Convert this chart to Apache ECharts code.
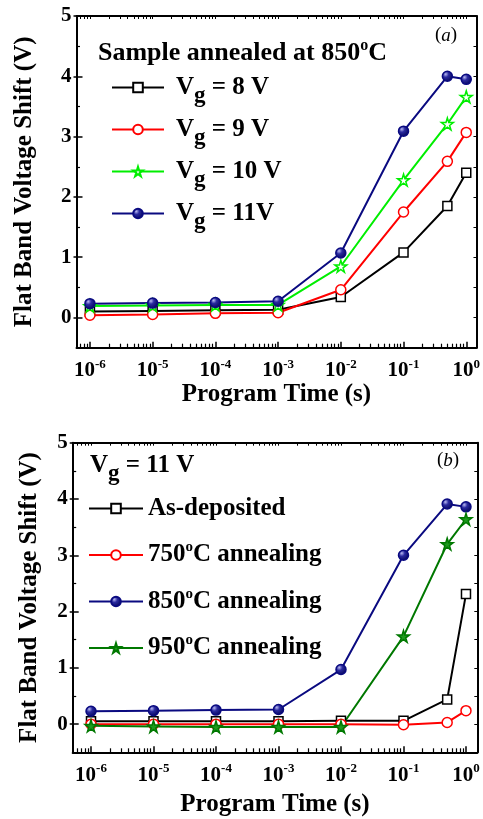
<!DOCTYPE html>
<html>
<head>
<meta charset="utf-8">
<script src="https://cdn.jsdelivr.net/npm/echarts@6/dist/echarts.min.js"></script>
<style>
html,body{margin:0;padding:0;background:#fff}
#main{width:483px;height:819px}
</style>
</head>
<body>
<div id="main"></div>
<script>
// program times (s)
var times = [1e-6, 1e-5, 1e-4, 1e-3, 1e-2, 1e-1, 0.5, 1];
var decades = [-6, -5, -4, -3, -2, -1, 0];
var yTicks = [0, 1, 2, 3, 4, 5];
var yHalf = [0.5, 1.5, 2.5, 3.5, 4.5];

// panel (a): sample annealed at 850 C
var vg8 = [0.10, 0.11, 0.12, 0.13, 0.34, 1.08, 1.85, 2.40];
var vg9 = [0.04, 0.05, 0.07, 0.08, 0.46, 1.75, 2.59, 3.07];
var vg10 = [0.19, 0.20, 0.21, 0.21, 0.85, 2.28, 3.21, 3.66];
var vg11 = [0.23, 0.24, 0.25, 0.27, 1.07, 3.09, 4.00, 3.95];

// panel (b): Vg = 11 V
var asDep = [0.05, 0.05, 0.05, 0.05, 0.06, 0.06, 0.44, 2.31];
var ann750 = [0.00, 0.00, 0.00, 0.00, 0.00, -0.01, 0.03, 0.24];
var ann850 = [0.23, 0.24, 0.25, 0.26, 0.97, 3.00, 3.91, 3.86];
var ann950 = [-0.03, -0.04, -0.05, -0.05, -0.05, 1.56, 3.20, 3.64];

var FONT = 'Liberation Serif';
var STAR = 'path://M50,0 L61,35 L98,35 L68,57 L79,91 L50,70 L21,91 L32,57 L2,35 L39,35 Z';

function pts(vals) {
  return vals.map(function (v, i) { return [Math.log10(times[i]), v]; });
}

function minorTicks(lo, hi) {
  var out = [];
  for (var d = -7; d <= 0; d++) {
    for (var k = 2; k <= 9; k++) {
      var v = d + Math.log10(k);
      if (v > lo && v < hi) out.push(v);
    }
  }
  return out;
}

var sphere = {
  type: 'radial', x: 0.35, y: 0.32, r: 0.75,
  colorStops: [
    {offset: 0, color: '#b8b8f0'},
    {offset: 0.35, color: '#2a2aa0'},
    {offset: 1, color: '#000050'}
  ]
};

var axLine = {onZero: false, lineStyle: {color: '#000', width: 2}};

function xAxes(gi, lo, hi, gap) {
  return [
    {
      gridIndex: gi, type: 'value', position: 'bottom', min: lo, max: hi,
      name: 'Program Time (s)', nameLocation: 'middle', nameGap: gap,
      nameTextStyle: {fontFamily: FONT, fontWeight: 'bold', fontSize: 25, color: '#000'},
      axisLine: axLine,
      axisTick: {inside: true, length: 6, customValues: decades, lineStyle: {color: '#000', width: 1.5}},
      axisLabel: {
        customValues: decades, margin: 10, color: '#000',
        formatter: function (v) { return '{b|10}{s|' + Math.round(v) + '}'; },
        rich: {
          b: {fontFamily: FONT, fontWeight: 'bold', fontSize: 21, color: '#000'},
          s: {fontFamily: FONT, fontWeight: 'bold', fontSize: 13, color: '#000', padding: [0, 0, 13, 0]}
        }
      },
      splitLine: {show: false}
    },
    {
      gridIndex: gi, type: 'value', position: 'bottom', min: lo, max: hi,
      axisLine: {show: false, onZero: false},
      axisTick: {inside: true, length: 4, customValues: minorTicks(lo, hi), lineStyle: {color: '#000', width: 1.2}},
      axisLabel: {show: false}, splitLine: {show: false}
    },
    {
      gridIndex: gi, type: 'value', position: 'top', min: lo, max: hi,
      axisLine: axLine,
      axisTick: {inside: true, length: 3, customValues: decades.concat(minorTicks(lo, hi)), lineStyle: {color: '#000', width: 1}},
      axisLabel: {show: false}, splitLine: {show: false}
    }
  ];
}

function yAxes(gi, gap) {
  return [
    {
      gridIndex: gi, type: 'value', position: 'left', min: -0.5, max: 5,
      name: 'Flat Band Voltage Shift (V)', nameLocation: 'middle', nameGap: gap,
      nameTextStyle: {fontFamily: FONT, fontWeight: 'bold', fontSize: 25, color: '#000'},
      axisLine: axLine,
      axisTick: {inside: true, length: 6, customValues: yTicks, lineStyle: {color: '#000', width: 1.5}},
      axisLabel: {customValues: yTicks, margin: 5, fontFamily: FONT, fontWeight: 'bold', fontSize: 21, color: '#000'},
      splitLine: {show: false}
    },
    {
      gridIndex: gi, type: 'value', position: 'left', min: -0.5, max: 5,
      axisLine: {show: false, onZero: false},
      axisTick: {inside: false, length: 3, customValues: yTicks, lineStyle: {color: '#000', width: 1.5}},
      axisLabel: {show: false}, splitLine: {show: false}
    },
    {
      gridIndex: gi, type: 'value', position: 'left', min: -0.5, max: 5,
      axisLine: {show: false, onZero: false},
      axisTick: {inside: true, length: 3.5, customValues: yHalf, lineStyle: {color: '#000', width: 1.2}},
      axisLabel: {show: false}, splitLine: {show: false}
    },
    {
      gridIndex: gi, type: 'value', position: 'right', min: -0.5, max: 5,
      axisLine: axLine,
      axisTick: {inside: true, length: 3, customValues: yTicks.concat(yHalf), lineStyle: {color: '#000', width: 1}},
      axisLabel: {show: false}, splitLine: {show: false}
    }
  ];
}

function line(name, vals, xi, yi, col, sym, size, fill) {
  return {
    name: name, type: 'line', xAxisIndex: xi, yAxisIndex: yi,
    data: pts(vals), color: col,
    symbol: sym, symbolSize: size, showSymbol: true,
    lineStyle: {color: col, width: 2},
    itemStyle: {color: fill, borderColor: col, borderWidth: 1.5},
    emphasis: {disabled: true}, animation: false
  };
}

var legRich = {
  sp: {fontSize: 8, width: 7},
  n: {fontFamily: FONT, fontWeight: 'bold', fontSize: 25, color: '#000'},
  g: {fontFamily: FONT, fontWeight: 'bold', fontSize: 23, color: '#000', padding: [18, 0, 0, 0]},
  o: {fontFamily: FONT, fontWeight: 'bold', fontSize: 15, color: '#000', padding: [0, 0, 15, 0]}
};

var legNames = {
  'Vg = 8 V': '{sp| }{n|V}{g|g}{n| = 8 V}',
  'Vg = 9 V': '{sp| }{n|V}{g|g}{n| = 9 V}',
  'Vg = 10 V': '{sp| }{n|V}{g|g}{n| = 10 V}',
  'Vg = 11V': '{sp| }{n|V}{g|g}{n| = 11V}',
  'As-deposited': '{n|As-deposited}',
  '750°C annealing': '{n|750}{o|o}{n|C annealing}',
  '850°C annealing': '{n|850}{o|o}{n|C annealing}',
  '950°C annealing': '{n|950}{o|o}{n|C annealing}'
};

var xa = xAxes(0, -6.214, 0.163, 34).concat(xAxes(1, -6.293, 0.181, 40));
var ya = yAxes(0, 39).concat(yAxes(1, 31));

var chart = echarts.init(document.getElementById('main'), null, {renderer: 'canvas'});
chart.setOption({
  backgroundColor: '#fff',
  animation: false,
  grid: [
    {left: 76.5, top: 16, width: 402.8, height: 331.7},
    {left: 72.7, top: 442.7, width: 404.6, height: 309.6}
  ],
  xAxis: xa,
  yAxis: ya,
  legend: [
    {
      data: ['Vg = 8 V', 'Vg = 9 V', 'Vg = 10 V', 'Vg = 11V'],
      orient: 'vertical', left: 106, top: 70, itemWidth: 52, itemHeight: 12, itemGap: 9,
      selectedMode: false, formatter: function (n) { return legNames[n]; },
      textStyle: {fontFamily: FONT, fontWeight: 'bold', fontSize: 25, color: '#000', rich: legRich}
    },
    {
      data: ['As-deposited', '750°C annealing', '850°C annealing', '950°C annealing'],
      orient: 'vertical', left: 83, top: 491, itemWidth: 54, itemHeight: 12, itemGap: 19,
      selectedMode: false, formatter: function (n) { return legNames[n]; },
      textStyle: {fontFamily: FONT, fontWeight: 'bold', fontSize: 25, color: '#000', rich: legRich}
    }
  ],
  graphic: [
    {
      type: 'text', left: 98, top: 38,
      style: {
        text: '{n|Sample annealed at 850}{o|o}{n|C}',
        rich: {
          n: {fontFamily: FONT, fontWeight: 'bold', fontSize: 26, fill: '#000'},
          o: {fontFamily: FONT, fontWeight: 'bold', fontSize: 16, fill: '#000', padding: [0, 0, 14, 0]}
        }
      }
    },
    {
      type: 'text', left: 435, top: 26,
      style: {
        text: '{p|(}{i|a}{p|)}',
        rich: {
          p: {fontFamily: FONT, fontSize: 19, fill: '#000'},
          i: {fontFamily: FONT, fontStyle: 'italic', fontSize: 19, fill: '#000'}
        }
      }
    },
    {
      type: 'text', left: 90, top: 453,
      style: {
        text: '{n|V}{g|g}{n| = 11 V}',
        rich: {
          n: {fontFamily: FONT, fontWeight: 'bold', fontSize: 25, fill: '#000'},
          g: {fontFamily: FONT, fontWeight: 'bold', fontSize: 23, fill: '#000', padding: [18, 0, 0, 0]}
        }
      }
    },
    {
      type: 'text', left: 437, top: 451,
      style: {
        text: '{p|(}{i|b}{p|)}',
        rich: {
          p: {fontFamily: FONT, fontSize: 19, fill: '#000'},
          i: {fontFamily: FONT, fontStyle: 'italic', fontSize: 19, fill: '#000'}
        }
      }
    }
  ],
  series: [
    line('Vg = 8 V', vg8, 0, 0, '#000000', 'rect', 9, '#fff'),
    line('Vg = 9 V', vg9, 0, 0, '#ff0000', 'circle', 10, '#fff'),
    line('Vg = 10 V', vg10, 0, 0, '#00ee00', STAR, 12, '#fff'),
    line('Vg = 11V', vg11, 0, 0, '#0a0a80', 'circle', 10, sphere),
    line('As-deposited', asDep, 3, 4, '#000000', 'rect', 9, '#fff'),
    line('750°C annealing', ann750, 3, 4, '#ff0000', 'circle', 10, '#fff'),
    line('850°C annealing', ann850, 3, 4, '#0a0a80', 'circle', 10, sphere),
    line('950°C annealing', ann950, 3, 4, '#007800', STAR, 12, '#1e9a1e')
  ]
});
</script>
</body>
</html>
